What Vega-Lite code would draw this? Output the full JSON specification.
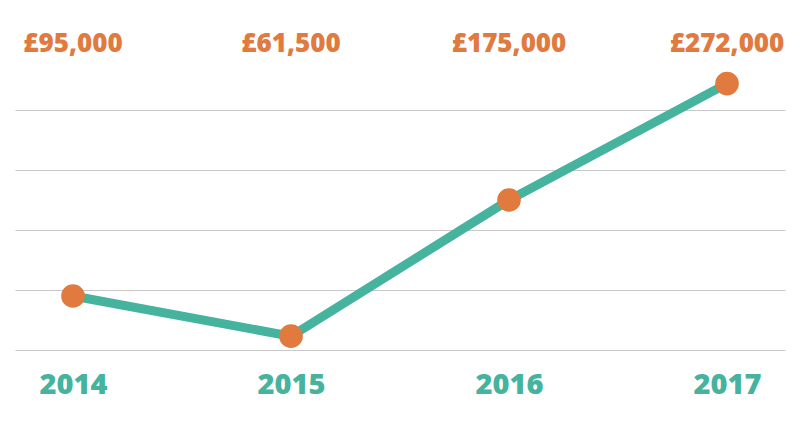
{
  "$schema": "https://vega.github.io/schema/vega-lite/v6.json",
  "width": 770,
  "height": 345,
  "autosize": {"type": "none"},
  "padding": {"left": 15, "top": 20, "right": 15, "bottom": 69},
  "background": "white",
  "config": {"view": {"stroke": null}, "font": "Open Sans"},
  "data": {
    "values": [
      {"year": "2014", "value": 95000, "label": "£95,000"},
      {"year": "2015", "value": 61500, "label": "£61,500"},
      {"year": "2016", "value": 175000, "label": "£175,000"},
      {"year": "2017", "value": 272000, "label": "£272,000"}
    ]
  },
  "encoding": {
    "x": {
      "field": "year",
      "type": "ordinal",
      "scale": {"type": "point", "padding": 0.266},
      "axis": {
        "title": null,
        "labelAngle": 0,
        "domain": false,
        "ticks": false,
        "labelFontSize": 29,
        "labelFontWeight": 800,
        "labelColor": "#45B39D",
        "labelPadding": 5,
        "labelBaseline": "top"
      }
    }
  },
  "layer": [
    {
      "mark": {"type": "line", "color": "#45B39D", "strokeWidth": 9},
      "encoding": {
        "y": {
          "field": "value",
          "type": "quantitative",
          "scale": {"domain": [37500, 325000], "nice": false, "zero": false},
          "axis": {
            "values": [50000, 100000, 150000, 200000, 250000],
            "grid": true,
            "gridColor": "#c8c8c8",
            "gridWidth": 1.2,
            "labels": false,
            "ticks": false,
            "domain": false,
            "title": null
          }
        }
      }
    },
    {
      "mark": {"type": "circle", "color": "#E07A3F", "opacity": 1, "size": 560},
      "encoding": {
        "y": {"field": "value", "type": "quantitative"}
      }
    },
    {
      "mark": {"type": "text", "color": "#E07A3F", "fontSize": 26, "fontWeight": 800, "baseline": "middle", "align": "center"},
      "encoding": {
        "y": {"datum": 305000, "type": "quantitative"},
        "text": {"field": "label"}
      }
    }
  ]
}
